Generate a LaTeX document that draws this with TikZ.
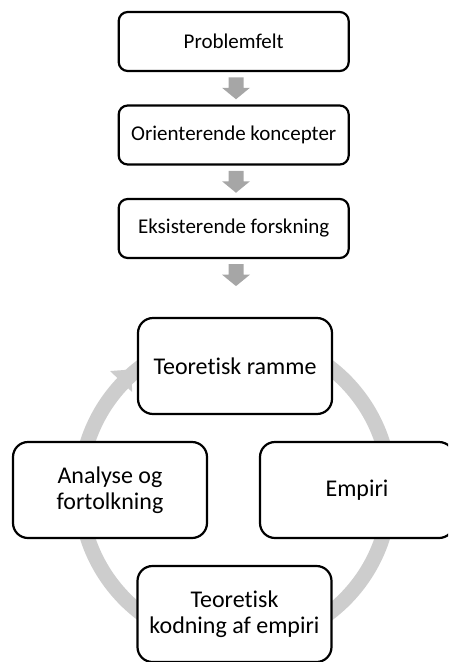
\documentclass[tikz,border=0pt]{standalone}
\usepackage{fontspec}
\setmainfont{Carlito}[Ligatures=NoCommon]
\usetikzlibrary{calc}
\definecolor{arrowgray}{RGB}{166,166,166}
\definecolor{ringgray}{RGB}{205,205,205}
\begin{document}
\begin{tikzpicture}[x=1pt,y=-1pt,
  topbox/.style={draw=black, line width=2.2pt, rounded corners=9pt, fill=white,
    minimum width=230pt, minimum height=59pt, inner sep=0pt,
    font=\fontsize{21}{25}\selectfont},
  cycbox/.style={draw=black, line width=2.2pt, rounded corners=15pt, fill=white,
    minimum width=194pt, minimum height=96pt, inner sep=0pt, align=center,
    font=\fontsize{24}{26.5}\selectfont},
  ring/.style={draw=ringgray, line width=15pt},
  downarr/.pic={\fill[arrowgray] (-7.5,-11) -- (7.5,-11) -- (7.5,-0.5) -- (14,-0.5)
    -- (0,11) -- (-14,-0.5) -- (-7.5,-0.5) -- cycle;}]
\useasboundingbox (0,0) rectangle (448,662);
\clip (0,0) rectangle (448,662);
% top chain
\node[topbox] (b1) at (233.7,41.5) {Problemfelt};
\node[topbox] (b2) at (233.7,135) {Orienterende koncepter};
\node[topbox] (b3) at (233.7,228.5) {Eksisterende forskning};
\coordinate (a1) at ($(b1.south)!0.5!(b2.north)+(2.3,0)$);
\coordinate (a2) at ($(b2.south)!0.5!(b3.north)+(2.3,0)$);
\coordinate (a3) at ($(b3.south)+(2.3,16)$);
\pic at (a1) {downarr};
\pic at (a2) {downarr};
\pic at (a3) {downarr};
% cycle
\coordinate (c) at (235,490);
\draw[ring] (c) circle[radius=155];
\fill[ringgray] ($(c)+(-136.4:142)$) -- ($(c)+(-136.4:172.5)$) -- ($(c)+(-130.7:159)$) -- cycle;
\node[cycbox] (tr) at (235,366) {Teoretisk ramme};
\node[cycbox] (em) at (357,490) {Empiri};
\node[cycbox] (ko) at (234.5,614) {Teoretisk\\kodning af empiri};
\node[cycbox] (an) at (110,490) {Analyse og\\fortolkning};
\end{tikzpicture}
\end{document}
